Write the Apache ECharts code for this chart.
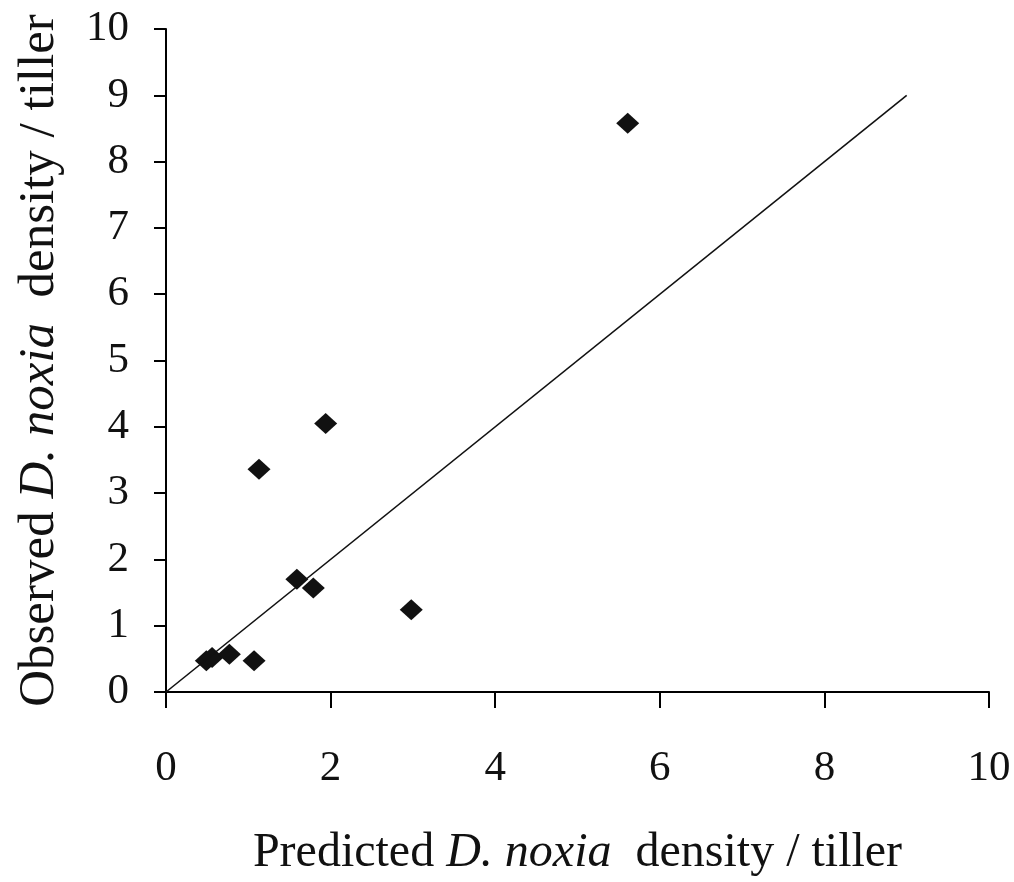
<!DOCTYPE html>
<html>
<head>
<meta charset="utf-8">
<script src="https://cdn.jsdelivr.net/npm/echarts@6/dist/echarts.min.js"></script>
<style>html,body{margin:0;padding:0;background:#fff}#c{width:1014px;height:882px}</style>
</head>
<body>
<div id="c"></div>
<script>
var predicted = [0.49, 0.56, 0.77, 1.07, 1.13, 1.59, 1.79, 1.94, 2.98, 5.61];
var observed  = [0.47, 0.52, 0.57, 0.47, 3.36, 1.70, 1.57, 4.05, 1.24, 8.58];
var lineX = [0, 9];
var lineY = [0, 9];
var xTicks = [0, 2, 4, 6, 8, 10];
var yTicks = [0, 1, 2, 3, 4, 5, 6, 7, 8, 9, 10];

var pts = predicted.map(function (p, i) { return [p, observed[i]]; });
var linePts = lineX.map(function (x, i) { return [x, lineY[i]]; });
var FONT = '"Liberation Serif","DejaVu Serif",serif';
function rich(sz) {
  return {
    n: { fontFamily: FONT, fontSize: sz, color: '#111' },
    i: { fontFamily: FONT, fontSize: sz, fontStyle: 'italic', color: '#111' }
  };
}

var chart = echarts.init(document.getElementById('c'));
chart.setOption({
  animation: false,
  backgroundColor: '#fff',
  grid: { left: 166, right: 25, top: 29, bottom: 187 },
  xAxis: {
    type: 'value', min: xTicks[0], max: xTicks[xTicks.length - 1], interval: 2,
    splitLine: { show: false },
    axisLine: { lineStyle: { color: '#000', width: 2 } },
    axisTick: { inside: false, length: 16, lineStyle: { color: '#000', width: 2 } },
    axisLabel: { color: '#111', fontFamily: FONT, fontSize: 43, margin: 55 },
    name: '{n|Predicted }{i|D. noxia}{n|  density / tiller}',
    nameLocation: 'middle', nameGap: 137,
    nameTextStyle: { rich: rich(48) }
  },
  yAxis: {
    type: 'value', min: yTicks[0], max: yTicks[yTicks.length - 1], interval: 1,
    splitLine: { show: false },
    axisLine: { show: true, lineStyle: { color: '#000', width: 2 } },
    axisTick: { show: true, inside: false, length: 12, lineStyle: { color: '#000', width: 2 } },
    axisLabel: { color: '#111', fontFamily: FONT, fontSize: 43, margin: 37 },
    name: '{n|Observed }{i|D. noxia}{n|  density / tiller}',
    nameLocation: 'middle', nameGap: 101, nameRotate: 90,
    nameTextStyle: { rich: rich(51) }
  },
  series: [
    {
      type: 'line', data: linePts, symbol: 'none', silent: true,
      lineStyle: { color: '#111', width: 1.6 }
    },
    {
      type: 'scatter', data: pts, symbol: 'diamond', symbolSize: [23, 21],
      itemStyle: { color: '#111', opacity: 1 }
    }
  ]
});
</script>
</body>
</html>
